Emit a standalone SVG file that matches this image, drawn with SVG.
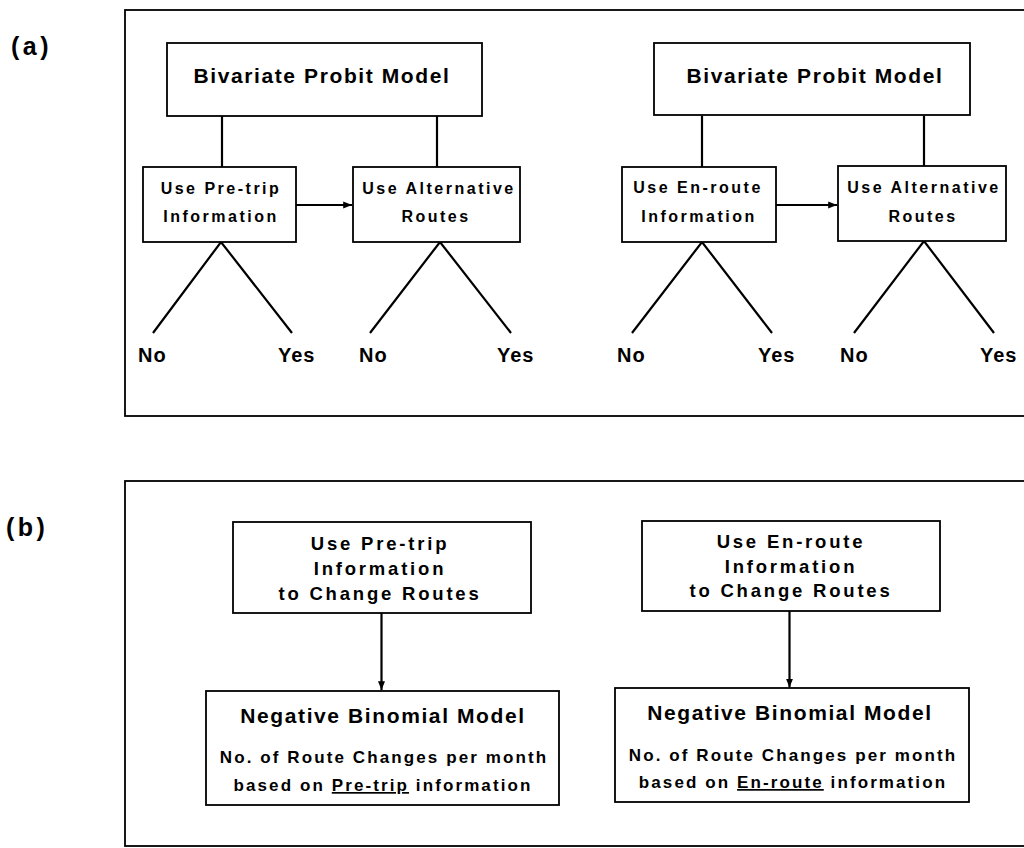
<svg xmlns="http://www.w3.org/2000/svg" width="1024" height="848" viewBox="0 0 1024 848">
<style>
  .frame { fill: none; stroke: #000; stroke-width: 1.8; }
  .box { fill: #fff; stroke: #000; stroke-width: 1.8; }
  .ln { fill: none; stroke: #000; stroke-width: 2.2; }
  text { font-family: "Liberation Sans", Arial, Helvetica, sans-serif; font-weight: bold; fill: #000; text-anchor: middle; }
  .big { font-size: 21px; letter-spacing: 1.6px; }
  .sm { font-size: 16px; letter-spacing: 2.5px; }
  .yn { font-size: 20px; letter-spacing: 1px; text-anchor: start; }
  .mid { font-size: 18.5px; letter-spacing: 2.8px; }
  .det { font-size: 17px; letter-spacing: 2.1px; }
  .lab { font-size: 25px; font-weight: bold; letter-spacing: 3.5px; text-anchor: start; }
  .ul { text-decoration: underline; }
</style>
<defs>
  <marker id="ah" viewBox="0 0 10 10" refX="10" refY="5" markerWidth="4" markerHeight="4" orient="auto" markerUnits="strokeWidth">
    <path d="M0,1 L10,5 L0,9 z" fill="#000"/>
  </marker>
</defs>
<rect width="1024" height="848" fill="#fff"/>

<g id="panel-labels">
  <text class="lab" x="11" y="55">(a)</text>
  <text class="lab" x="6" y="536">(b)</text>
</g>

<g id="frames">
  <rect class="frame" x="125" y="10" width="910" height="406"/>
  <rect class="frame" x="125" y="481" width="910" height="365"/>
</g>

<g id="connectors">
  <line class="ln" x1="222" y1="116" x2="222" y2="167"/>
  <line class="ln" x1="437" y1="116" x2="437" y2="167"/>
  <line class="ln" x1="702" y1="116" x2="702" y2="167"/>
  <line class="ln" x1="924" y1="116" x2="924" y2="166"/>
  <line class="ln" x1="296" y1="205" x2="352" y2="205" marker-end="url(#ah)"/>
  <line class="ln" x1="776" y1="205" x2="837" y2="205" marker-end="url(#ah)"/>
  <polyline class="ln" points="153,333 221,242 292,333"/>
  <polyline class="ln" points="370,333 440,242 511,333"/>
  <polyline class="ln" points="632,333 702,242 772,333"/>
  <polyline class="ln" points="854,333 924,241 994,333"/>
  <line class="ln" x1="381.5" y1="613" x2="381.5" y2="690" marker-end="url(#ah)"/>
  <line class="ln" x1="789.5" y1="611" x2="789.5" y2="687.5" marker-end="url(#ah)"/>
</g>

<g id="bp-left">
  <rect class="box" x="167" y="43" width="315" height="73"/>
  <text class="big" x="322" y="83">Bivariate Probit Model</text>
</g>
<g id="bp-right">
  <rect class="box" x="654" y="43" width="316" height="72"/>
  <text class="big" x="815" y="83">Bivariate Probit Model</text>
</g>

<g id="pretrip-a">
  <rect class="box" x="143" y="167" width="153" height="75"/>
  <text class="sm" x="221" y="194">Use Pre-trip</text>
  <text class="sm" x="221" y="222">Information</text>
</g>
<g id="alt-a1">
  <rect class="box" x="353" y="167" width="167" height="75"/>
  <text class="sm" x="439" y="194">Use Alternative</text>
  <text class="sm" x="436" y="222">Routes</text>
</g>
<g id="enroute-a">
  <rect class="box" x="622" y="167" width="154" height="75"/>
  <text class="sm" x="698" y="193">Use En-route</text>
  <text class="sm" x="699" y="222">Information</text>
</g>
<g id="alt-a2">
  <rect class="box" x="838" y="166" width="168" height="75"/>
  <text class="sm" x="924" y="193">Use Alternative</text>
  <text class="sm" x="923" y="222">Routes</text>
</g>

<g id="yn-labels">
  <text class="yn" x="138" y="362">No</text>
  <text class="yn" x="278" y="362">Yes</text>
  <text class="yn" x="359" y="362">No</text>
  <text class="yn" x="497" y="362">Yes</text>
  <text class="yn" x="617" y="362">No</text>
  <text class="yn" x="758" y="362">Yes</text>
  <text class="yn" x="840" y="362">No</text>
  <text class="yn" x="980" y="362">Yes</text>
</g>

<g id="pretrip-b">
  <rect class="box" x="233" y="522" width="298" height="91"/>
  <text class="mid" x="380" y="550">Use Pre-trip</text>
  <text class="mid" x="380" y="575">Information</text>
  <text class="mid" x="380" y="600">to Change Routes</text>
</g>
<g id="enroute-b">
  <rect class="box" x="642" y="521" width="298" height="90"/>
  <text class="mid" x="791" y="548">Use En-route</text>
  <text class="mid" x="791" y="573">Information</text>
  <text class="mid" x="791" y="597">to Change Routes</text>
</g>

<g id="nb-left">
  <rect class="box" x="206" y="691" width="353" height="114"/>
  <text class="big" x="383" y="723">Negative Binomial Model</text>
  <text class="det" x="384" y="763">No. of Route Changes per month</text>
  <text class="det" x="383" y="791">based on <tspan class="ul">Pre-trip</tspan> information</text>
</g>
<g id="nb-right">
  <rect class="box" x="615" y="688" width="354" height="114"/>
  <text class="big" x="790" y="720">Negative Binomial Model</text>
  <text class="det" x="793" y="761">No. of Route Changes per month</text>
  <text class="det" x="793" y="788">based on <tspan class="ul">En-route</tspan> information</text>
</g>
</svg>
